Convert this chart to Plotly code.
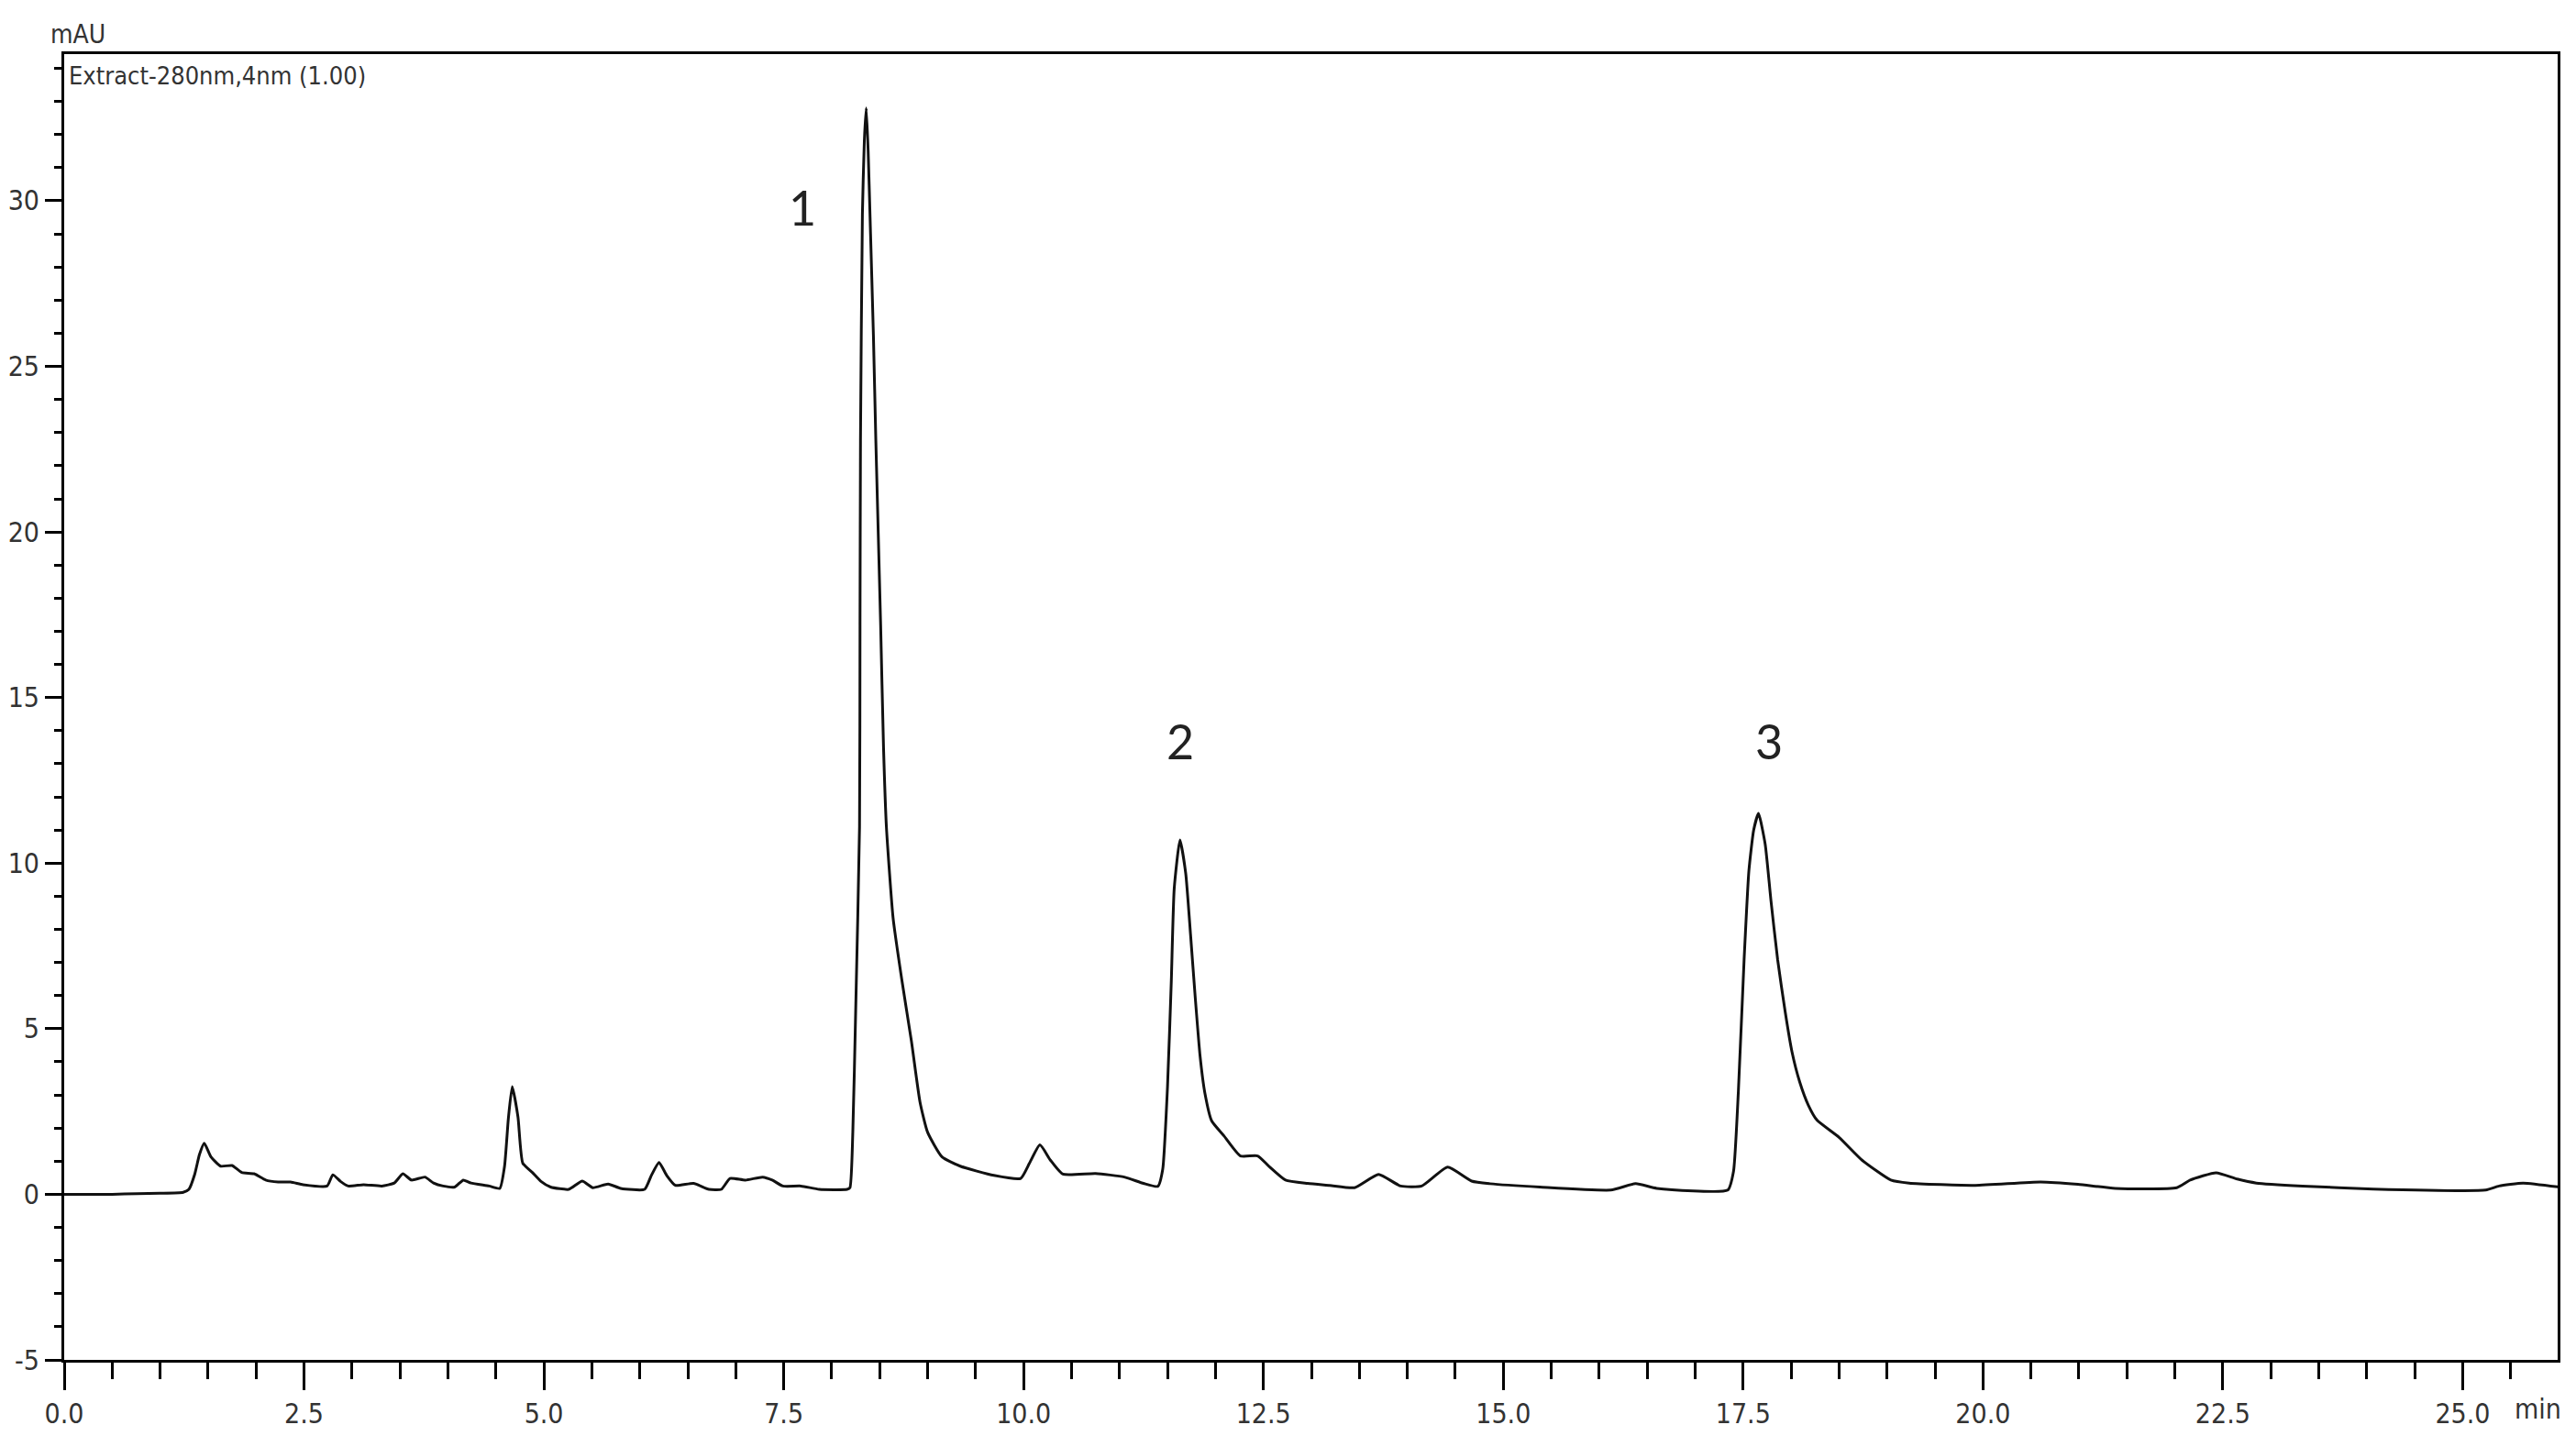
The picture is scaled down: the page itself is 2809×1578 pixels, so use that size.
# IMPORT MODULES
import plotly.graph_objects as go

# DATA
time_min = [0.00, 0.50, 0.76, 1.00, 1.24, 1.30, 1.36, 1.41, 1.46, 1.53, 1.63, 1.75, 1.85, 1.98,
            2.10, 2.23, 2.36, 2.49, 2.74, 2.80, 2.88, 2.96, 3.12, 3.31, 3.44, 3.53, 3.62, 3.76,
            3.85, 3.95, 4.07, 4.16, 4.24, 4.43, 4.54, 4.59, 4.63, 4.67, 4.73, 4.78, 4.88, 4.97,
            5.07, 5.26, 5.40, 5.51, 5.67, 5.80, 6.05, 6.12, 6.20, 6.28, 6.37, 6.56, 6.72, 6.85,
            6.94, 7.10, 7.28, 7.38, 7.49, 7.68, 7.87, 8.16,
            8.19, 8.22, 8.25, 8.29, 8.295, 8.30, 8.32, 8.34, 8.36, 8.38, 8.40, 8.435, 8.46, 8.51,
            8.54, 8.57, 8.64, 8.73, 8.83, 8.92, 9.00, 9.15, 9.34, 9.69,
            9.97, 10.06, 10.17, 10.28, 10.41, 10.75, 11.05, 11.25, 11.40,
            11.45, 11.50, 11.54, 11.57, 11.63, 11.69, 11.74, 11.79, 11.84, 11.89, 11.96, 12.09,
            12.26, 12.44, 12.56, 12.73, 12.96, 13.19, 13.45, 13.70, 13.93, 14.15, 14.42, 14.67,
            14.86, 15.38, 16.12, 16.38, 16.60, 17.34,
            17.40, 17.45, 17.51, 17.56, 17.61, 17.66, 17.73, 17.79, 17.86, 17.94, 18.01, 18.09,
            18.18, 18.27, 18.50, 18.74, 19.04, 19.23, 19.92, 20.60, 20.99, 21.38, 22.02, 22.16,
            22.43, 22.65, 22.85, 23.33, 24.07, 25.24, 25.38, 25.63, 26.00]

absorbance_mau = [0.00, 0.00, 0.02, 0.03, 0.06, 0.15, 0.60, 1.20, 1.54, 1.13, 0.85, 0.87, 0.66, 0.62,
                  0.43, 0.37, 0.37, 0.29, 0.25, 0.59, 0.39, 0.25, 0.29, 0.25, 0.34, 0.62, 0.43, 0.52,
                  0.34, 0.25, 0.22, 0.43, 0.34, 0.25, 0.18, 0.85, 2.30, 3.25, 2.33, 0.94, 0.66, 0.39,
                  0.22, 0.15, 0.40, 0.20, 0.31, 0.18, 0.15, 0.57, 0.96, 0.57, 0.27, 0.33, 0.15, 0.15,
                  0.48, 0.43, 0.52, 0.43, 0.25, 0.25, 0.15, 0.15,
                  0.20, 1.87, 5.56, 11.1, 17.2, 22.75, 29.6, 31.8, 32.8, 31.5, 29.5, 25.9, 22.75, 17.2,
                  13.5, 11.1, 8.34, 6.49, 4.64, 2.79, 1.87, 1.13, 0.85, 0.57,
                  0.48, 0.93, 1.49, 1.03, 0.61, 0.63, 0.52, 0.33, 0.24,
                  0.75, 3.24, 6.46, 9.23, 10.7, 9.69, 7.85, 5.91, 4.16, 3.05, 2.22, 1.76,
                  1.16, 1.16, 0.84, 0.43, 0.33, 0.27, 0.20, 0.60, 0.25, 0.25, 0.82, 0.40,
                  0.32, 0.22, 0.13, 0.32, 0.18, 0.13,
                  0.70, 3.09, 7.08, 9.77, 11.0, 11.5, 10.57, 8.87, 7.08, 5.48, 4.29, 3.39,
                  2.69, 2.24, 1.72, 1.03, 0.43, 0.34, 0.27, 0.37, 0.30, 0.18, 0.20, 0.43,
                  0.65, 0.46, 0.34, 0.25, 0.16, 0.13, 0.25, 0.34, 0.22]

peak_names = ['1', '2', '3']
peak_label_time = [7.69, 11.63, 17.77]
peak_label_mau = [29.8, 13.7, 13.7]

x_tick_vals = [0, 2.5, 5, 7.5, 10, 12.5, 15, 17.5, 20, 22.5, 25]
x_tick_text = ['0.0', '2.5', '5.0', '7.5', '10.0', '12.5', '15.0', '17.5', '20.0', '22.5', '25.0']
y_tick_vals = [-5, 0, 5, 10, 15, 20, 25, 30]
y_tick_text = ['-5', '0', '5', '10', '15', '20', '25', '30']

NARROW = 'Liberation Sans Narrow, Arial Narrow, DejaVu Sans Condensed, sans-serif'

# PLOT
fig = go.Figure()
fig.add_trace(go.Scatter(x=time_min, y=absorbance_mau, mode='lines',
                         line=dict(color='#111111', width=3, shape='spline', smoothing=0.5),
                         showlegend=False))

for name, t, v in zip(peak_names, peak_label_time, peak_label_mau):
    fig.add_annotation(x=t, y=v, text=name, showarrow=False,
                       font=dict(family='Lato, Open Sans, sans-serif', size=52, color='#222222'))

# FORMAT  (page body has an 8px margin, so the figure is 8px smaller each way)
fig.update_layout(
    width=2801, height=1570,
    margin=dict(l=62, r=20, t=51, b=95),
    paper_bgcolor='white', plot_bgcolor='white',
    font=dict(family=NARROW, size=30, color='#333333'),
)
fig.update_xaxes(range=[0, 25.99], tickvals=x_tick_vals, ticktext=x_tick_text,
                 ticks='outside', ticklen=30, tickwidth=3, tickcolor='black',
                 minor=dict(dtick=0.5, ticks='outside', ticklen=18, tickwidth=3, tickcolor='black'),
                 showline=True, linewidth=3, linecolor='black', mirror=True,
                 showgrid=False, zeroline=False, automargin=False)
fig.update_yaxes(range=[-5, 34.43], tickvals=y_tick_vals, ticktext=y_tick_text,
                 ticks='outside', ticklen=18, tickwidth=3, tickcolor='black',
                 minor=dict(dtick=1, ticks='outside', ticklen=8, tickwidth=3, tickcolor='black'),
                 showline=True, linewidth=3, linecolor='black', mirror=True,
                 showgrid=False, zeroline=False, automargin=False)

fig.add_annotation(x=0.0055, y=1.0154, xref='paper', yref='paper', text='mAU', showarrow=False,
                   xanchor='center', yanchor='middle', font=dict(family=NARROW, size=28, color='#333333'))
fig.add_annotation(x=0.0011, y=0.9838, xref='paper', yref='paper', text='Extract-280nm,4nm (1.00)',
                   showarrow=False, xanchor='left', yanchor='middle',
                   font=dict(family=NARROW, size=27, color='#333333'))
fig.add_annotation(x=0.992, y=-0.0379, xref='paper', yref='paper', text='min', showarrow=False,
                   xanchor='center', yanchor='middle', font=dict(family=NARROW, size=30, color='#333333'))

fig.write_html("out.html")
